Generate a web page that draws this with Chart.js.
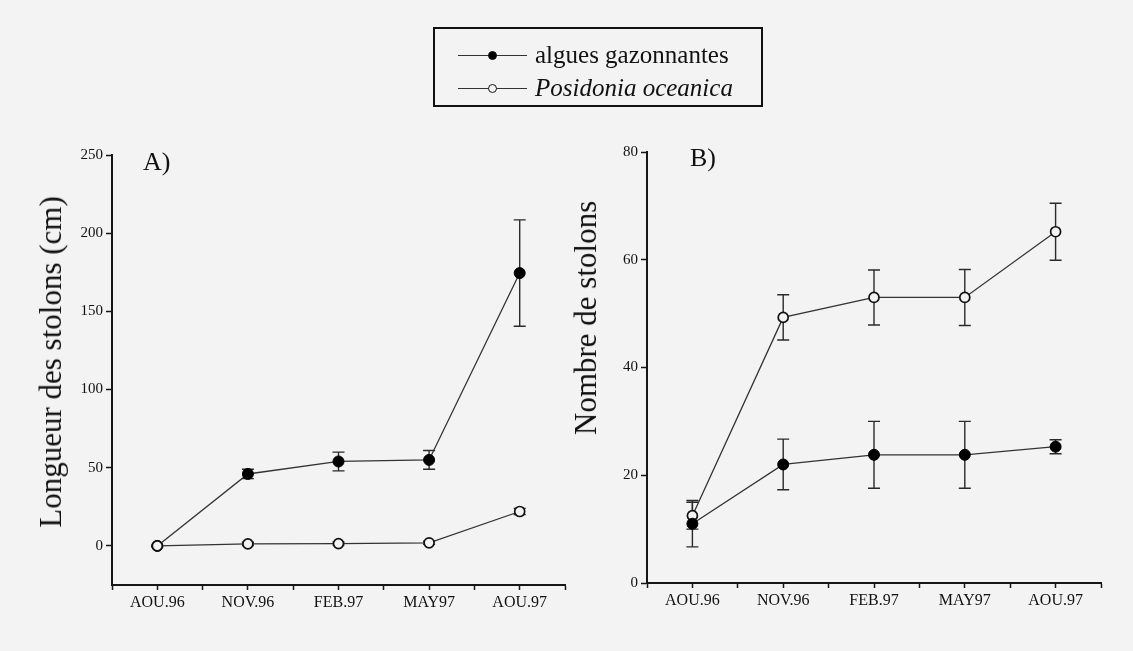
<!DOCTYPE html>
<html>
<head>
<meta charset="utf-8">
<script src="https://cdn.jsdelivr.net/npm/chart.js@4.4.0/dist/chart.umd.min.js"></script>
<style>
    body { margin: 0; background: #f3f3f3; }
    #page { position: relative; width: 1133px; height: 651px; background: #f3f3f3; font-family: "Liberation Serif", serif; color: #111; }
    canvas { position: absolute; top: 0; }
    .ytitle { position: absolute; white-space: nowrap; font-size: 31px; transform: translate(-50%, -50%) rotate(-90deg); }
    .panel { position: absolute; font-size: 26px; transform: translateY(-50%); }
    #legend { position: absolute; left: 433px; top: 27px; width: 326px; height: 76px; border: 2px solid #111; }
    .leg-row { position: absolute; left: 0; height: 30px; line-height: 30px; font-size: 25px; }
    .leg-line { position: absolute; left: 23px; top: 15px; width: 69px; border-top: 1.3px solid #333; }
    .leg-dot { position: absolute; left: 53px; top: 11px; width: 9px; height: 9px; border-radius: 50%; box-sizing: border-box; border: 1.5px solid #111; }
    .leg-text { position: absolute; left: 100px; top: 0; white-space: nowrap; }
</style>
</head>
<body>
<div id="page">
    <canvas id="chartA" width="580" height="651" style="left:0"></canvas>
    <canvas id="chartB" width="573" height="651" style="left:560px"></canvas>
    <div class="ytitle" style="left:51px; top:362px">Longueur des stolons (cm)</div>
    <div class="ytitle" style="left:586px; top:318px">Nombre de stolons</div>
    <div class="panel" style="left:143px; top:162px">A)</div>
    <div class="panel" style="left:690px; top:158px">B)</div>
    <div id="legend">
        <div class="leg-row" style="top:11px">
            <span class="leg-line"></span><span class="leg-dot" style="background:#000"></span>
            <span class="leg-text">algues gazonnantes</span>
        </div>
        <div class="leg-row" style="top:44px">
            <span class="leg-line"></span><span class="leg-dot" style="background:#f3f3f3"></span>
            <span class="leg-text" style="font-style:italic">Posidonia oceanica</span>
        </div>
    </div>
</div>
<script>
const months = ['AOU.96', 'NOV.96', 'FEB.97', 'MAY97', 'AOU.97'];

// A) longueur des stolons (cm)
const lengthAlgues = [0, 46, 54, 55, 174.5];
const lengthAlguesErr = [0, 3, 6, 6, 34];
const lengthPosidonia = [0, 1.3, 1.5, 2, 22];
const lengthPosidoniaErr = [0.5, 1, 1, 1, 2];
const lengthTicks = [0, 50, 100, 150, 200, 250];

// B) nombre de stolons
const countAlgues = [11, 22, 23.8, 23.8, 25.3];
const countAlguesErr = [4.3, 4.7, 6.2, 6.2, 1.3];
const countPosidonia = [12.5, 49.3, 53, 53, 65.2];
const countPosidoniaErr = [2.5, 4.2, 5.1, 5.2, 5.3];
const countTicks = [0, 20, 40, 60, 80];

const paper = '#f3f3f3';
const ink = '#161616';

// x ticks: one per month plus the half steps between them
const xTickValues = [];
for (let i = -1; i < months.length; i++) {
    if (i >= 0) xTickValues.push(i);
    xTickValues.push(i + 0.5);
}

function toPoints(values) {
    return values.map((v, i) => ({ x: i, y: v }));
}

// error bars, drawn under the markers
const errorBars = {
    id: 'errorBars',
    beforeDatasetsDraw(chart) {
        const ctx = chart.ctx;
        const xs = chart.scales.x;
        const ys = chart.scales.y;
        ctx.save();
        ctx.strokeStyle = '#2a2a2a';
        ctx.lineWidth = 1.4;
        chart.data.datasets.forEach(ds => {
            ds.data.forEach((p, i) => {
                const e = ds.errors[i];
                if (!e) return;
                const px = xs.getPixelForValue(p.x);
                const top = ys.getPixelForValue(p.y + e);
                const bot = ys.getPixelForValue(p.y - e);
                ctx.beginPath();
                ctx.moveTo(px, top); ctx.lineTo(px, bot);
                ctx.moveTo(px - 6, top); ctx.lineTo(px + 6, top);
                ctx.moveTo(px - 6, bot); ctx.lineTo(px + 6, bot);
                ctx.stroke();
            });
        });
        ctx.restore();
    }
};

function filledSet(values, errors, order) {
    return {
        data: toPoints(values),
        errors: errors,
        order: order,
        borderColor: '#333',
        borderWidth: 1.3,
        pointRadius: 5.5,
        pointBackgroundColor: '#000',
        pointBorderColor: '#000',
        pointBorderWidth: 1
    };
}

function openSet(values, errors, order) {
    return {
        data: toPoints(values),
        errors: errors,
        order: order,
        borderColor: '#333',
        borderWidth: 1.3,
        pointRadius: 5,
        pointBackgroundColor: paper,
        pointBorderColor: '#111',
        pointBorderWidth: 1.7
    };
}

function makeChart(id, datasets, yMin, yMax, yTicks, yWidth, padding) {
    return new Chart(document.getElementById(id), {
        type: 'line',
        data: { datasets: datasets },
        plugins: [errorBars],
        options: {
            responsive: false,
            animation: false,
            devicePixelRatio: 1,
            layout: { padding: padding },
            plugins: { legend: { display: false }, tooltip: { enabled: false } },
            scales: {
                x: {
                    type: 'linear',
                    min: -0.5,
                    max: 4.5,
                    afterBuildTicks: scale => { scale.ticks = xTickValues.map(v => ({ value: v })); },
                    afterFit: scale => { scale.height = 40; },
                    grid: { drawOnChartArea: false, tickLength: 5, tickColor: ink, tickWidth: 1.5 },
                    border: { color: ink, width: 2 },
                    ticks: {
                        autoSkip: false,
                        maxRotation: 0,
                        padding: 3,
                        color: '#111',
                        font: { family: 'Liberation Serif', size: 16 },
                        callback: v => Number.isInteger(v) ? months[v] : ''
                    }
                },
                y: {
                    min: yMin,
                    max: yMax,
                    afterBuildTicks: scale => { scale.ticks = yTicks.map(v => ({ value: v })); },
                    afterFit: scale => { scale.width = yWidth; },
                    grid: { drawOnChartArea: false, tickLength: 6, tickColor: ink, tickWidth: 1.5 },
                    border: { color: ink, width: 2 },
                    ticks: {
                        padding: 3,
                        color: '#111',
                        font: { family: 'Liberation Serif', size: 15 }
                    }
                }
            }
        }
    });
}

makeChart('chartA',
    [filledSet(lengthAlgues, lengthAlguesErr, 1), openSet(lengthPosidonia, lengthPosidoniaErr, 0)],
    -25, 250, lengthTicks, 112,
    { left: 0, top: 155, right: 15, bottom: 26 });

makeChart('chartB',
    [filledSet(countAlgues, countAlguesErr, 0), openSet(countPosidonia, countPosidoniaErr, 1)],
    0, 80, countTicks, 87,
    { left: 0, top: 152, right: 32, bottom: 28 });
</script>
</body>
</html>
